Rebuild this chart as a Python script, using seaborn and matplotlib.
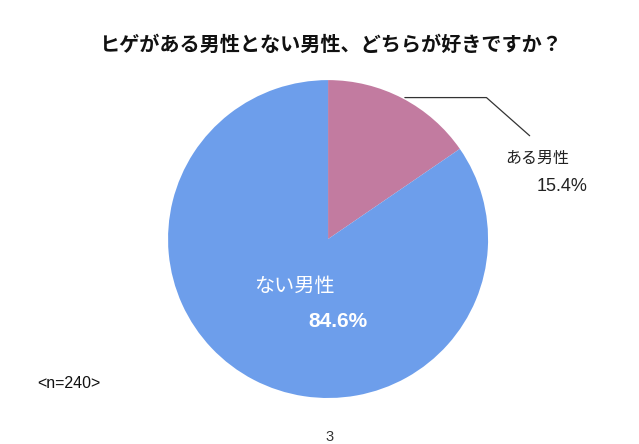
"""
Pie chart: preference for men with or without a beard (n=240)
"""

import matplotlib
matplotlib.use('Agg')
import matplotlib.pyplot as plt
import seaborn as sns

sns.set_theme(style='white')
plt.rcParams['font.family'] = ['Liberation Sans', 'Noto Sans CJK JP',
                               'DejaVu Sans']

categories = ['ある男性', 'ない男性']
shares = [15.4, 84.6]
colors = ['#C27BA0', '#6D9EEB']
title = 'ヒゲがある男性とない男性、どちらが好きですか？'
note = '<n=240>'
page_no = '3'


def main():
    fig = plt.figure(figsize=(6.39, 4.44), dpi=100)
    fig.patch.set_facecolor('white')
    ax = fig.add_axes([0.263, 0.1036, 0.5008, 0.716])

    ax.pie(shares, colors=colors, startangle=90, counterclock=False,
           wedgeprops={'linewidth': 0})
    ax.set_aspect('auto')
    ax.set_xlim(-1, 1)
    ax.set_ylim(-1, 1)
    ax.axis('off')

    # inside label for the big slice
    ax.text(-0.21, -0.30, categories[1], color='white', fontsize=14.5,
            ha='center', va='center')
    ax.text(0.06, -0.52, f'{shares[1]}%', color='white', fontsize=15,
            fontweight='bold', ha='center', va='center')

    # outside label with leader line for the small slice
    ax.plot([0.48, 0.99, 1.26], [0.89, 0.89, 0.65], color='#333333',
            linewidth=0.9, clip_on=False)
    ax.text(1.31, 0.51, categories[0], color='#222222', fontsize=11.5,
            ha='center', va='center')
    ax.text(1.46, 0.33, f'{shares[0]}%', color='#222222', fontsize=13,
            ha='center', va='center')

    fig.text(0.517, 0.898, title, fontsize=14.5, fontweight='bold',
             ha='center', va='center', color='#111111')
    fig.text(0.058, 0.137, note, fontsize=11.5, ha='left', va='center',
             color='#111111')
    fig.text(0.515, 0.0, page_no, fontsize=10.5, ha='center', va='bottom',
             color='#333333')

    fig.savefig('out.png', dpi=100)


if __name__ == '__main__':
    main()
